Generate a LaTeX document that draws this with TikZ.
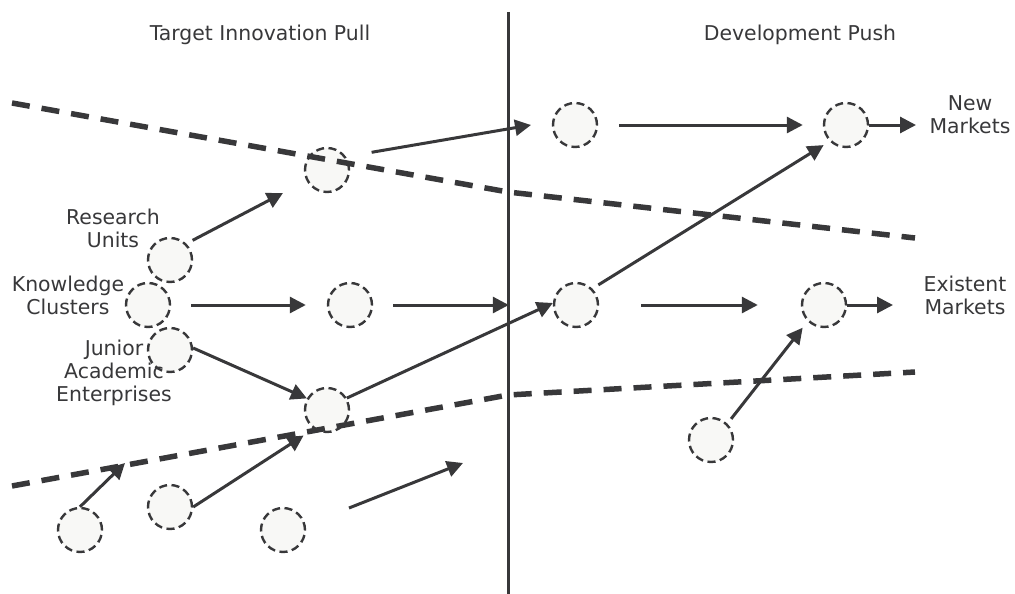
\documentclass[tikz,border=0pt]{standalone}
\usepackage{fontspec}
\setmainfont{DejaVu Sans}
\usetikzlibrary{arrows.meta}

\definecolor{ink}{HTML}{38383A}
\definecolor{bubble}{HTML}{F8F8F6}

\tikzset{
  idea/.style={circle,draw=ink,fill=bubble,line width=2.4pt,dash pattern=on 8pt off 4.5pt,minimum size=44pt,inner sep=0pt},
  flow/.style={draw=ink,line width=3pt,-{Triangle[length=16pt,width=16pt]}},
  frontier/.style={draw=ink,line width=5.5pt,dash pattern=on 18pt off 12pt},
  lbl/.style={text=ink,align=center,inner sep=0pt,font=\fontsize{20.4}{23}\selectfont}
}

\begin{document}
\begin{tikzpicture}[x=1pt,y=-1pt]
\useasboundingbox (0,0) rectangle (1015,594);

\path (260,41) node[lbl,anchor=base](pull){Target Innovation Pull} (800,41) node[lbl,anchor=base](push){Development Push};

% sources on the left
\path (170,260) node[idea](research){} (148,305) node[idea](clusters){} (170,350) node[idea](junior){};
\path (113,228) node[lbl](researchtxt){Research\\Units} (68,295) node[lbl](clusterstxt){Knowledge\\Clusters} (114,373) node[lbl](juniortxt){Junior\\Academic\\Enterprises};

% ideas in between
\path (327,170) node[idea](upper){} (350,305) node[idea](mid){} (327,410) node[idea](lower){} (80,530) node[idea](seed1){} (170,507) node[idea](seed2){} (283,530) node[idea](seed3){};
\path (575,125) node[idea](top){} (576,305) node[idea](centre){} (846,125) node[idea](newhub){} (824,305) node[idea](oldhub){} (711,440) node[idea](late){};

\path (970,115) node[lbl](newtxt){New\\Markets} (965,295) node[lbl](oldtxt){Existent\\Markets};

\coordinate (researchtip) at (283,193);
\coordinate (uppertip) at (531,125);
\coordinate (newtip) at (916,125);
\coordinate (oldtip) at (893,305);
\coordinate (seedtip) at (125,463);
\coordinate (driftA) at (349,508);
\coordinate (driftB) at (463,463);

% the two frontiers and the divide
\draw[frontier] (12,103) -- (508,192) -- (915,238);
\draw[frontier] (12,486) -- (508,395) -- (915,372);
\draw[ink,line width=3pt] (508.5,12) -- (508.5,594);

\draw[flow,shorten <=7pt] (research.45) -- (researchtip);
\draw[flow,shorten <=26pt] (upper.35) -- (uppertip);
\draw[flow,shorten <=21pt,shorten >=20pt] (top.east) -- (newhub.west);
\draw[flow] (newhub.east) -- (newtip);
\draw[flow,shorten <=20pt,shorten >=21pt] (clusters.east) -- (mid.west);
\draw[flow,shorten <=20pt,shorten >=44pt] (mid.east) -- (centre.west);
\draw[flow,shorten <=7pt,shorten >=7pt] (centre.45) -- (newhub.225);
\draw[flow,shorten <=42pt,shorten >=43pt] (centre.east) -- (oldhub.west);
\draw[flow] (oldhub.east) -- (oldtip);
\draw[flow,shorten <=6pt,shorten >=8pt] (late.45) -- (oldhub.225);
\draw[flow] (junior.5) -- (lower.150);
\draw[flow] (lower.31) -- (centre.175);
\draw[flow] (seed1.north) -- (seedtip);
\draw[flow,shorten >=12pt] (seed2.east) -- (lower.235);
\draw[flow] (driftA) -- (driftB);
\end{tikzpicture}
\end{document}
